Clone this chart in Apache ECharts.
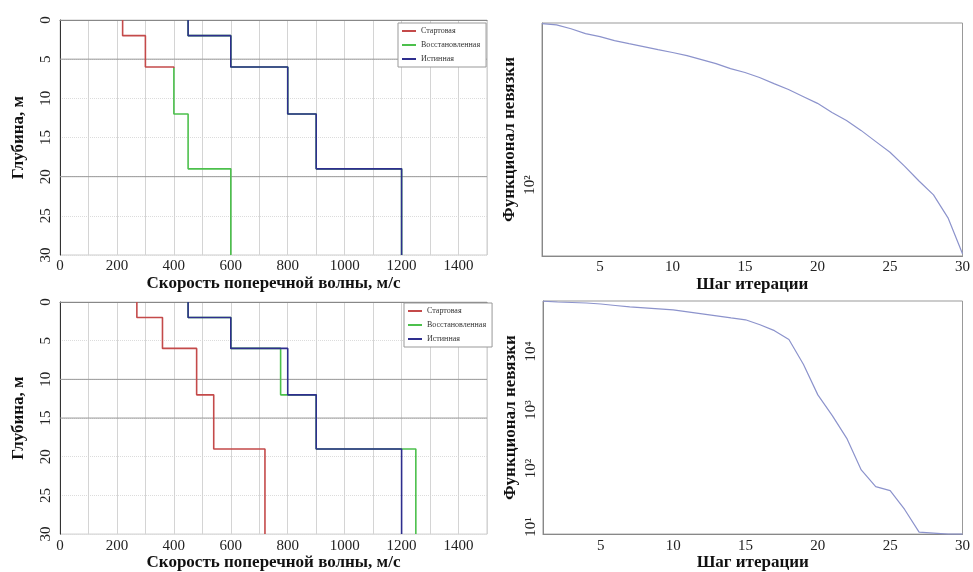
<!DOCTYPE html>
<html><head><meta charset="utf-8">
<script src="https://cdn.jsdelivr.net/npm/echarts@6/dist/echarts.min.js"></script>
<style>html,body{margin:0;padding:0;background:#fff}#c{width:973px;height:572px}</style>
</head><body><div id="c"></div>
<script>
// ---- data ----
const depthBounds = [0, 2, 6, 12, 19, 30];
const p1Start = [220, 300, 400, 450, 600];
const p1Recovered = [450, 600, 800, 900, 1200];
const p1True = [450, 600, 800, 900, 1200];
const p3Start = [270, 360, 480, 540, 720];
const p3Recovered = [450, 600, 775, 900, 1250];
const p3True = [450, 600, 800, 900, 1200];
const p1GuideDepths = [5, 20];
const p3GuideDepths = [10, 15];
const velRange = [0, 1500];
const velTicks = [0, 200, 400, 600, 800, 1000, 1200, 1400];
const iterSteps = [1,2,3,4,5,6,7,8,9,10,11,12,13,14,15,16,17,18,19,20,21,22,23,24,25,26,27,28,29,30];
const misfitTop = [195.5,194.5,191.4,187.5,185.2,182.2,179.9,177.7,175.5,173.4,171.2,168.4,165.6,162.2,159.6,156.3,152.4,148.7,144.5,140.4,135.2,130.8,125.5,119.9,114.6,108.2,101.7,96.0,87.3,75.2];
const misfitBottom = [72400,69700,68350,67000,64450,60800,57400,55200,53100,51100,47300,43750,40450,37400,34650,28530,22600,15920,6040,1810,802,328,94.6,49,41.9,20.0,8.2,7.9,7.6,7.6];
const iterTicks = [5, 10, 15, 20, 25, 30];
const legendNames = ['Стартовая', 'Восстановленная', 'Истинная'];

// ---- helpers ----
function stairs(vel) {
  const pts = [];
  for (let i = 0; i < vel.length; i++) {
    pts.push([vel[i], depthBounds[i]]);
    pts.push([vel[i], depthBounds[i + 1]]);
  }
  return pts;
}
function pairs(xs, ys) { return xs.map((x, i) => [x, ys[i]]); }
function guidePts(depths) {
  const pts = [];
  depths.forEach((d, i) => {
    if (i) pts.push(null);
    pts.push([velRange[0], d], [velRange[1], d]);
  });
  return pts;
}
const sup = {'0':'⁰','1':'¹','2':'²','3':'³','4':'⁴','5':'⁵','6':'⁶','7':'⁷','8':'⁸','9':'⁹','-':'⁻'};
function logLabel(v) {
  const e = Math.log10(v);
  if (Math.abs(e - Math.round(e)) > 1e-6) return '';
  return '10' + String(Math.round(e)).split('').map(c => sup[c]).join('');
}

const FONT = 'Liberation Serif';
const tickText = {fontFamily: FONT, fontSize: 15, color: '#222'};
const nameText = {fontFamily: FONT, fontSize: 17, fontWeight: 'bold', color: '#111'};
const C_RED = '#c44a4a', C_GREEN = '#4cc04c', C_BLUE = '#2e2e8e', C_CURVE = '#8c93cc';

function velAxis(gi) {
  return {
    type: 'value', gridIndex: gi, min: velRange[0], max: velRange[1], interval: 100,
    name: 'Скорость поперечной волны, м/с', nameLocation: 'middle', nameGap: 17,
    nameTextStyle: nameText,
    axisLine: {show: true, lineStyle: {color: '#888'}},
    axisTick: {show: false},
    axisLabel: Object.assign({margin: 4, formatter: v => velTicks.indexOf(v) >= 0 ? String(v) : ''}, tickText),
    splitLine: {show: true, lineStyle: {color: '#d4d4d4', width: 1}}
  };
}
function depthAxis(gi) {
  return {
    type: 'value', gridIndex: gi, min: 0, max: 30, interval: 5, inverse: true,
    name: 'Глубина, м', nameLocation: 'middle', nameGap: 33,
    nameTextStyle: nameText,
    axisLine: {show: true, lineStyle: {color: '#333'}},
    axisTick: {show: false},
    axisLabel: Object.assign({rotate: 90, margin: 6}, tickText),
    splitLine: {show: true, lineStyle: {color: '#dcdcdc', type: 'dotted'}}
  };
}
function iterAxis(gi) {
  return {
    type: 'value', gridIndex: gi, min: 1, max: 30,
    name: 'Шаг итерации', nameLocation: 'middle', nameGap: 18,
    nameTextStyle: nameText,
    axisLine: {show: true, lineStyle: {color: '#888'}},
    axisTick: {show: false},
    axisLabel: Object.assign({margin: 4, formatter: v => iterTicks.indexOf(v) >= 0 ? String(v) : ''}, tickText),
    splitLine: {show: false}
  };
}
function misfitAxis(gi, mn, mx) {
  return {
    type: 'log', logBase: 10, gridIndex: gi, min: mn, max: mx,
    name: 'Функционал невязки', nameLocation: 'middle', nameGap: 24,
    nameTextStyle: nameText,
    axisLine: {show: true, lineStyle: {color: '#888'}},
    axisTick: {show: false},
    axisLabel: Object.assign({rotate: 90, margin: 4, formatter: logLabel}, tickText),
    splitLine: {show: false}
  };
}
function guideSeries(depths, gi) {
  return {type: 'line', name: 'guide' + gi, xAxisIndex: gi, yAxisIndex: gi, data: guidePts(depths),
    symbol: 'none', silent: true, connectNulls: false, z: 1,
    lineStyle: {color: '#9a9a9a', width: 1}};
}
function stepSeries(name, vel, gi, color, id) {
  return {
    id: id, type: 'line', name: name, xAxisIndex: gi, yAxisIndex: gi,
    data: stairs(vel), symbol: 'none', showSymbol: false, z: 3,
    lineStyle: {color: color, width: 1.6}, itemStyle: {color: color}
  };
}
function legendAt(left, top) {
  return {
    data: legendNames, orient: 'vertical', left: left, top: top,
    itemWidth: 14, itemHeight: 2, itemGap: 6, icon: 'rect',
    textStyle: {fontFamily: FONT, fontSize: 8, color: '#333'},
    borderColor: '#999', borderWidth: 1, backgroundColor: '#fff',
    padding: [4, 6, 4, 4]
  };
}

const chart = echarts.init(document.getElementById('c'), null, {renderer: 'canvas'});
chart.setOption({
  backgroundColor: '#fff',
  animation: false,
  grid: [
    {left: 60, top: 20, width: 427, height: 235, show: true, borderColor: '#ccc', backgroundColor: 'transparent'},
    {left: 542, top: 23, width: 423, height: 233, show: true, borderColor: '#999', backgroundColor: 'transparent'},
    {left: 60, top: 302, width: 427, height: 235, show: true, borderColor: '#ccc', backgroundColor: 'transparent'},
    {left: 543, top: 301, width: 422, height: 236, show: true, borderColor: '#999', backgroundColor: 'transparent'}
  ],
  xAxis: [velAxis(0), iterAxis(1), velAxis(2), iterAxis(3)],
  yAxis: [depthAxis(0), misfitAxis(1, 74.5, 196), depthAxis(2), misfitAxis(3, 7.6, 72500)],
  legend: [legendAt(398, 23), legendAt(404, 303)],
  series: [
    guideSeries(p1GuideDepths, 0),
    stepSeries('Стартовая', p1Start, 0, C_RED, 'p1start'),
    stepSeries('Восстановленная', p1Recovered, 0, C_GREEN, 'p1rec'),
    stepSeries('Истинная', p1True, 0, C_BLUE, 'p1true'),
    {type: 'line', name: 'misfit1', xAxisIndex: 1, yAxisIndex: 1, data: pairs(iterSteps, misfitTop),
      symbol: 'none', lineStyle: {color: C_CURVE, width: 1.2}},
    guideSeries(p3GuideDepths, 2),
    stepSeries('Стартовая', p3Start, 2, C_RED, 'p3start'),
    stepSeries('Восстановленная', p3Recovered, 2, C_GREEN, 'p3rec'),
    stepSeries('Истинная', p3True, 2, C_BLUE, 'p3true'),
    {type: 'line', name: 'misfit2', xAxisIndex: 3, yAxisIndex: 3, data: pairs(iterSteps, misfitBottom),
      symbol: 'none', lineStyle: {color: C_CURVE, width: 1.2}}
  ]
});
// starting model of the top panel: red above the 6 m boundary, green below it
const yTop = chart.convertToPixel({yAxisIndex: 0}, depthBounds[0]);
const ySplit = chart.convertToPixel({yAxisIndex: 0}, depthBounds[2]) + 1;
const yBot = chart.convertToPixel({yAxisIndex: 0}, depthBounds[depthBounds.length - 1]);
const f = (ySplit - yTop) / (yBot - yTop);
const startGrad = new echarts.graphic.LinearGradient(0, yTop, 0, yBot, [
  {offset: 0, color: C_RED}, {offset: f, color: C_RED},
  {offset: Math.min(1, f + 0.0001), color: C_GREEN}, {offset: 1, color: C_GREEN}
], true);
chart.setOption({series: [{id: 'p1start', lineStyle: {color: startGrad, width: 1.6}}]});
</script>
</body></html>
